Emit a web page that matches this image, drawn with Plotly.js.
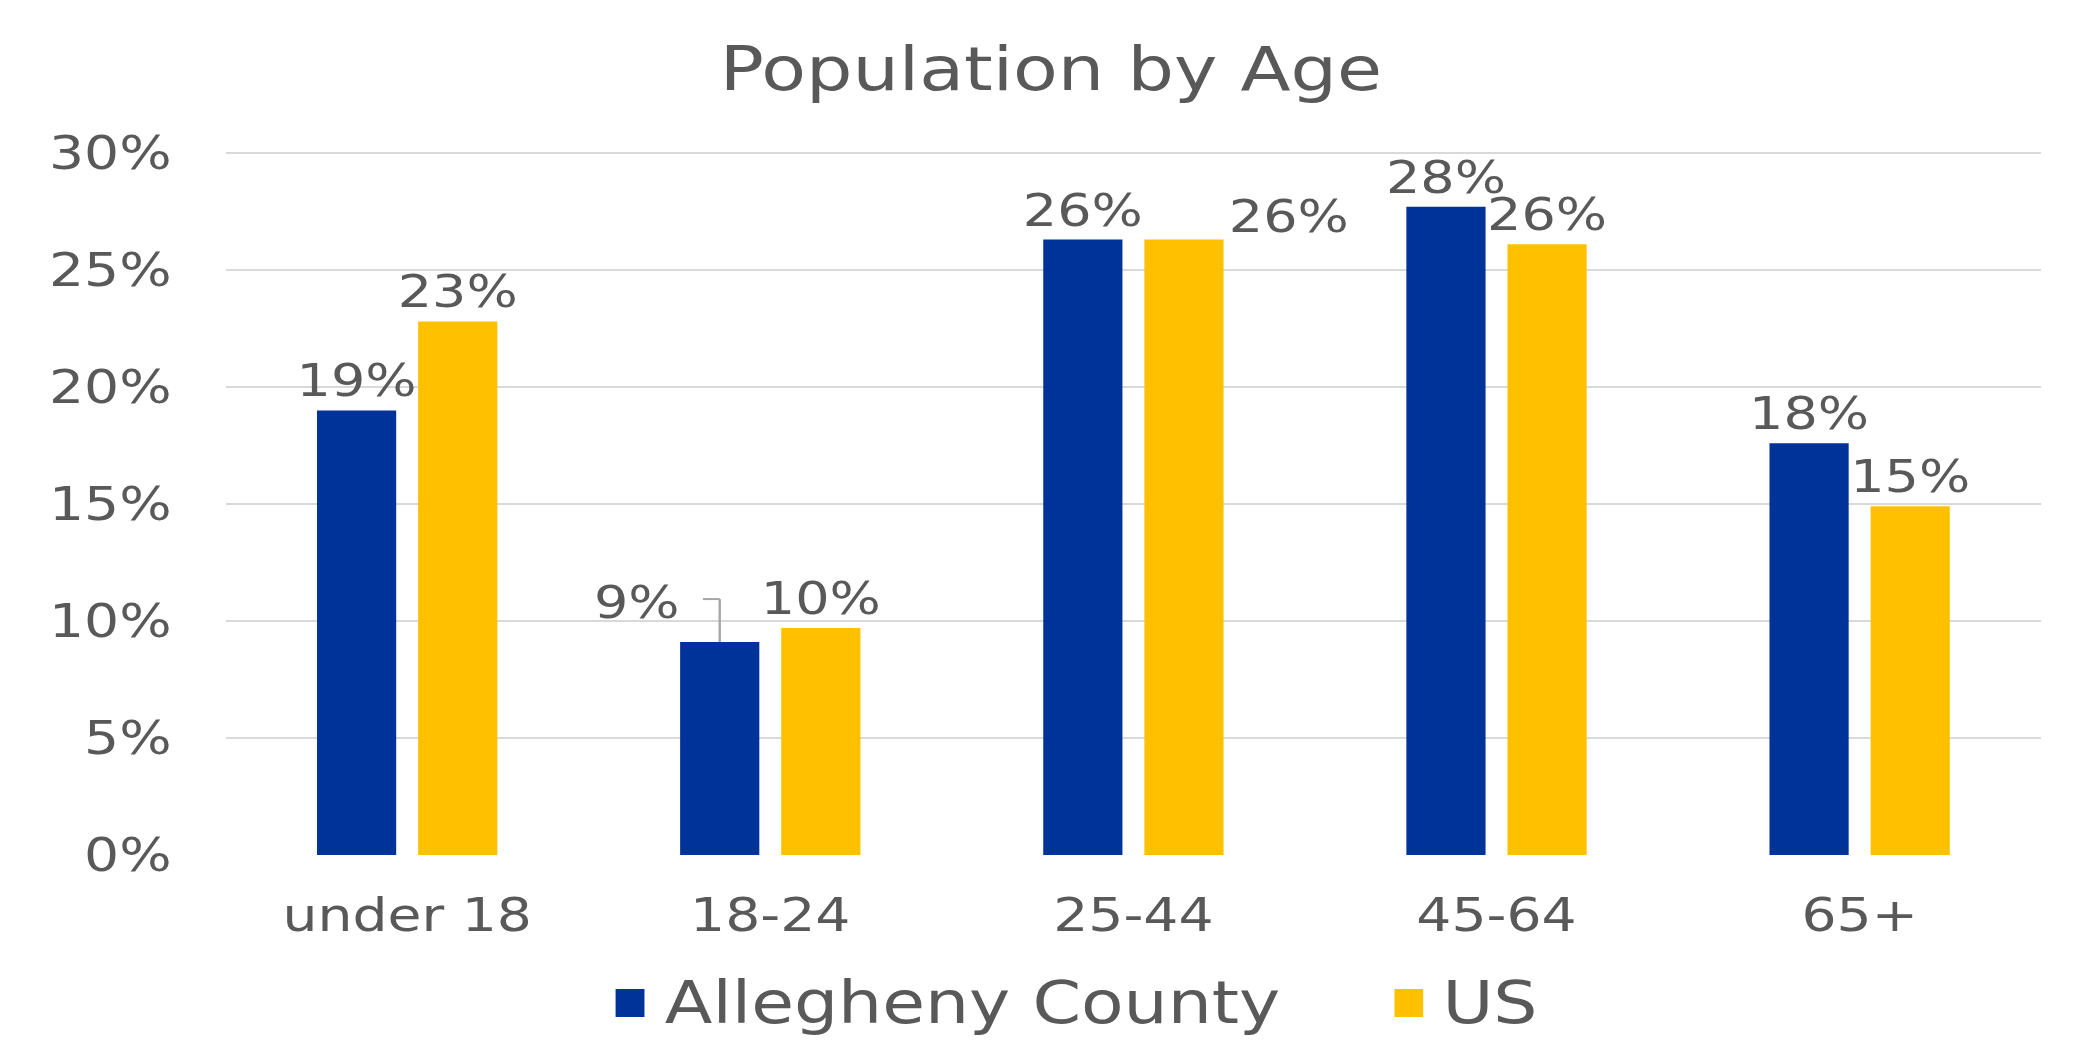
<!DOCTYPE html>
<html>
<head>
<meta charset="utf-8">
<script src="https://cdn.plot.ly/plotly-3.0.1.min.js"></script>
<style>
  html, body { margin: 0; padding: 0; background: #ffffff; overflow: hidden; }
  #frame { position: absolute; left: 10px; top: 6px; width: 2062px; height: 1100px;
           border-left: 2px solid #d4d4d4; border-top: 2px solid #d4d4d4; border-right: 1px solid #ececec; }
  #chart { position: absolute; left: 0; top: 0; width: 1741px; height: 1062px;
           transform: scaleX(1.2); transform-origin: 0 0; }
</style>
</head>
<body>
<div id="frame"></div>
<div id="chart"></div>
<script>
// ---- data ----
const categories = ['under 18', '18-24', '25-44', '45-64', '65+'];
const alleghenyValues = [0.190, 0.091, 0.263, 0.277, 0.176];
const usValues = [0.228, 0.097, 0.263, 0.261, 0.149];
const seriesNames = ['Allegheny County', 'US'];
const yTickValues = [0, 0.05, 0.10, 0.15, 0.20, 0.25, 0.30];

// ---- style ----
const BLUE = '#003399';
const GOLD = '#FFC000';
const TEXT = '#595959';
const FONT = 'DejaVu Sans, Verdana, sans-serif';
const W = 1741, H = 1062;
const M = { l: 188, r: 40, t: 148, b: 207 };
const BARGAP = 0.443, BARGROUPGAP = 0.217;

// labels that were moved away from their bars in the original
const movedBlue = '18-24';
const movedUS = '25-44';
const fmt = v => Math.round(v * 100) + '%';

const plotW = W - M.l - M.r;
const catW = plotW / categories.length;
const slot = catW * (1 - BARGAP) / 2;
const barOffset = slot / 2;   // pixel offset of each bar centre from the category centre

const blueTextPos = categories.map(c => c === movedBlue ? 'none' : 'outside');
const usTextPos = categories.map(c => c === movedUS ? 'none' : 'outside');

const common = {
  type: 'bar', x: categories, texttemplate: '%{y:.0%}',
  textfont: { family: FONT, size: 45, color: TEXT },
  constraintext: 'none', cliponaxis: false, hoverinfo: 'x+y+name'
};
const traces = [
  Object.assign({}, common, { name: seriesNames[0], y: alleghenyValues,
    marker: { color: BLUE }, textposition: blueTextPos }),
  Object.assign({}, common, { name: seriesNames[1], y: usValues,
    marker: { color: GOLD }, textposition: usTextPos })
];

const bi = categories.indexOf(movedBlue);
const ui = categories.indexOf(movedUS);

const annotations = [
  { x: movedBlue, y: alleghenyValues[bi], xref: 'x', yref: 'y', text: fmt(alleghenyValues[bi]),
    showarrow: false, xshift: -barOffset - 69, yshift: 40, xanchor: 'center', yanchor: 'middle',
    font: { family: FONT, size: 45, color: TEXT } },
  { x: movedUS, y: usValues[ui], xref: 'x', yref: 'y', text: fmt(usValues[ui]),
    showarrow: false, xshift: barOffset + 87, yshift: 23, xanchor: 'center', yanchor: 'middle',
    font: { family: FONT, size: 45, color: TEXT } },
  // legend texts
  { x: 0.2406, y: -0.2093, xref: 'paper', yref: 'paper', text: seriesNames[0], showarrow: false,
    xanchor: 'left', yanchor: 'middle', font: { family: FONT, size: 58, color: TEXT } },
  { x: 0.6690, y: -0.2093, xref: 'paper', yref: 'paper', text: seriesNames[1], showarrow: false,
    xanchor: 'left', yanchor: 'middle', font: { family: FONT, size: 58, color: TEXT } }
];

const shapes = [
  // leader line for the moved 9% label
  { type: 'line', xref: 'x', yref: 'y', xsizemode: 'pixel', ysizemode: 'pixel',
    xanchor: bi, yanchor: alleghenyValues[bi], x0: -barOffset, x1: -barOffset, y0: 0, y1: 43,
    line: { color: '#a6a6a6', width: 2 } },
  { type: 'line', xref: 'x', yref: 'y', xsizemode: 'pixel', ysizemode: 'pixel',
    xanchor: bi, yanchor: alleghenyValues[bi], x0: -barOffset - 14, x1: -barOffset, y0: 43, y1: 43,
    line: { color: '#a6a6a6', width: 2 } },
  // legend squares
  { type: 'rect', xref: 'paper', yref: 'paper', x0: 0.2148, x1: 0.2307, y0: -0.2291, y1: -0.1895,
    fillcolor: BLUE, line: { width: 0 } },
  { type: 'rect', xref: 'paper', yref: 'paper', x0: 0.6438, x1: 0.6596, y0: -0.2291, y1: -0.1895,
    fillcolor: GOLD, line: { width: 0 } }
];

const layout = {
  width: W, height: H,
  margin: M,
  paper_bgcolor: '#ffffff', plot_bgcolor: '#ffffff',
  font: { family: FONT, color: TEXT },
  title: { text: 'Population by Age', font: { family: FONT, size: 61, color: TEXT },
           x: 0.503, xref: 'container', xanchor: 'center', y: 0.935, yref: 'container', yanchor: 'middle' },
  barmode: 'group', bargap: BARGAP, bargroupgap: BARGROUPGAP,
  showlegend: false,
  xaxis: { type: 'category', showgrid: false, showline: false, zeroline: false, ticks: '',
           tickfont: { family: FONT, size: 46, color: TEXT }, ticklabelstandoff: 29, fixedrange: true },
  yaxis: { range: [0, 0.30214], tickvals: yTickValues, tickformat: '.0%', showgrid: true,
           gridcolor: '#d9d9d9', gridwidth: 2, zeroline: false, showline: false, ticks: '',
           tickfont: { family: FONT, size: 46, color: TEXT }, ticklabelstandoff: 44, fixedrange: true },
  annotations: annotations,
  shapes: shapes
};

Plotly.newPlot('chart', traces, layout, { displayModeBar: false, responsive: false });
</script>
</body>
</html>
